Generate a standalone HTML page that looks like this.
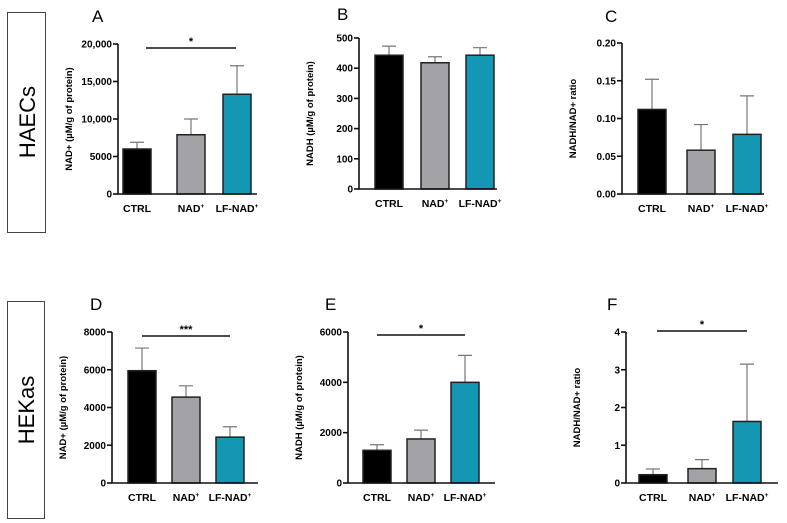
<!DOCTYPE html>
<html><head><meta charset="utf-8"><style>
body{margin:0;background:#fff;}
svg{display:block;font-family:"Liberation Sans",Arial,sans-serif;}
</style></head><body>
<svg id="fig" width="787" height="523" viewBox="0 0 787 523">
<rect x="7.5" y="12.5" width="38" height="220" fill="none" stroke="#444"/>
<text transform="translate(35,122) rotate(-90)" text-anchor="middle" font-size="22">HAECs</text>
<rect x="7.5" y="301.5" width="37" height="217" fill="none" stroke="#444"/>
<text transform="translate(34,410) rotate(-90)" text-anchor="middle" font-size="22">HEKas</text>
</svg>
<script>
const categories=["CTRL","NAD","LF-NAD"];
const valsA=[6000,7900,13300], errA=[900,2100,3800], ticksA=[0,5000,10000,15000,20000], tickLabA=["0","5000","10,000","15,000","20,000"];
const valsB=[443,418,443], errB=[30,20,25], ticksB=[0,100,200,300,400,500], tickLabB=["0","100","200","300","400","500"];
const valsC=[0.112,0.058,0.079], errC=[0.040,0.034,0.051], ticksC=[0,0.05,0.10,0.15,0.20], tickLabC=["0.00","0.05","0.10","0.15","0.20"];
const valsD=[5950,4550,2430], errD=[1200,600,550], ticksD=[0,2000,4000,6000,8000], tickLabD=["0","2000","4000","6000","8000"];
const valsE=[1300,1750,4000], errE=[220,350,1070], ticksE=[0,2000,4000,6000], tickLabE=["0","2000","4000","6000"];
const valsF=[0.22,0.38,1.63], errF=[0.15,0.24,1.52], ticksF=[0,1,2,3,4], tickLabF=["0","1","2","3","4"];
const colors=["#000000","#a2a2a7","#1497b2"];
const NS="http://www.w3.org/2000/svg";
const svg=document.getElementById('fig');
function mk(tag,attrs,parent){const e=document.createElementNS(NS,tag);for(const k in attrs)e.setAttribute(k,attrs[k]);(parent||svg).appendChild(e);return e;}
const panels=[
 {id:'a',letter:'A',lx:92,ly:22,ax:118,top:44,zero:194,xend:257,max:20000,bars:[123,177,223],vals:valsA,err:errA,ticks:ticksA,labs:tickLabA,ylab:'NAD+ (µM/g of protein)',sig:[146,236,48,'*']},
 {id:'b',letter:'B',lx:337,ly:20,ax:359,top:38,zero:189,xend:497,max:500,bars:[375,421,466],vals:valsB,err:errB,ticks:ticksB,labs:tickLabB,ylab:'NADH (µM/g of protein)'},
 {id:'c',letter:'C',lx:605,ly:22,ax:622,top:43,zero:194,xend:764,max:0.2,bars:[638,687,733],vals:valsC,err:errC,ticks:ticksC,labs:tickLabC,ylab:'NADH/NAD+ ratio'},
 {id:'d',letter:'D',lx:90,ly:310,ax:112,top:332,zero:483,xend:258,max:8000,bars:[128,172,216],vals:valsD,err:errD,ticks:ticksD,labs:tickLabD,ylab:'NAD+ (µM/g of protein)',sig:[142,230,336,'***']},
 {id:'e',letter:'E',lx:325,ly:310,ax:348,top:332,zero:483,xend:495,max:6000,bars:[363,407,451],vals:valsE,err:errE,ticks:ticksE,labs:tickLabE,ylab:'NADH (µM/g of protein)',sig:[377,465,335,'*']},
 {id:'f',letter:'F',lx:607,ly:310,ax:626,top:332,zero:483,xend:778,max:4,bars:[639,688,733],vals:valsF,err:errF,ticks:ticksF,labs:tickLabF,ylab:'NADH/NAD+ ratio',sig:[657,747,331,'*']}
];
panels.forEach(p=>{
 const g=mk('g',{});
 
 
 const y=v=>p.zero-(v/p.max)*(p.zero-p.top);
 const t=mk('text',{x:p.lx,y:p.ly,'font-size':17},g);t.textContent=p.letter;
 
 
 const yl=mk('text',{transform:`translate(${p.ax-46},${(p.top+p.zero)/2}) rotate(-90)`,'text-anchor':'middle','font-size':9.5,'font-weight':'bold'},g);yl.textContent=p.ylab;
 
 
 p.vals.forEach((v,i)=>{
  const bx=p.bars[i],w=28,cx=bx+w/2;
  const e=p.err[i];
  const eb=mk('path',{d:`M${cx},${y(v)}V${y(v+e)}M${cx-7},${y(v+e)}H${cx+7}`,stroke:'#777','stroke-width':1.2,fill:'none'},g);
  
  
  const r=mk('rect',{x:bx,y:y(v),width:w,height:p.zero-y(v),fill:colors[i],stroke:'#222','stroke-width':1.5},g);
  
  
  const xl=mk('text',{x:cx,y:p.zero+18,'text-anchor':'middle','font-size':10.5,'font-weight':'bold'},g);
  xl.textContent=categories[i];
  if(i>0){const s=mk('tspan',{dy:-4,'font-size':6.5},xl);s.textContent='+';}
  
  
 });
 mk('path',{d:`M${p.ax},${p.top}V${p.zero}H${p.xend}`,stroke:'#111','stroke-width':1.6,fill:'none'},g);
 p.ticks.forEach((tv,i)=>{
  mk('line',{x1:p.ax-5,x2:p.ax,y1:y(tv),y2:y(tv),stroke:'#111','stroke-width':1.6},g);
  const tl=mk('text',{x:p.ax-6,y:y(tv)+3.5,'text-anchor':'end','font-size':10,'font-weight':'bold'},g);
  tl.textContent=p.labs[i];
  
  
 });
 if(p.sig){
  const [x1,x2,sy,st]=p.sig;
  mk('line',{x1:x1,x2:x2,y1:sy,y2:sy,stroke:'#111','stroke-width':1.4},g);
  const s=mk('text',{x:(x1+x2)/2,y:sy-3,'text-anchor':'middle','font-size':11,'font-weight':'bold'},g);
  s.textContent=st;
  
  
 }
});
</script>
</body></html>
